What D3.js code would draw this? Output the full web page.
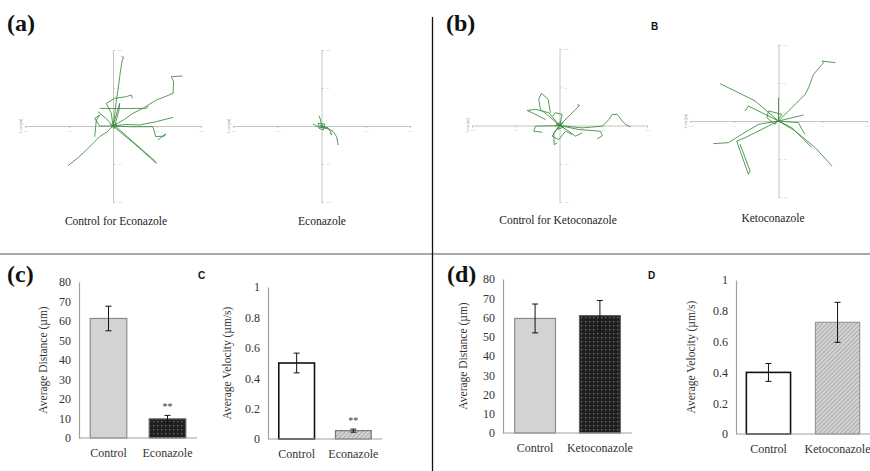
<!DOCTYPE html>
<html>
<head>
<meta charset="utf-8">
<script src="https://cdn.jsdelivr.net/npm/d3@7"></script>
<style>
  body { margin: 0; background: #fff; }
  svg { display: block; }
  .serif { font-family: "Liberation Serif", "DejaVu Serif", "Times New Roman", serif; }
  .sans { font-family: "Liberation Sans", "DejaVu Sans", Arial, sans-serif; }
</style>
</head>
<body>
<div id="fig"></div>
<script>
// ---- bar chart data ----
var econCats = ["Control", "Econazole"];
var ketoCats = ["Control", "Ketoconazole"];
var distEcon = [61.3, 9.8];
var distEconErr = [6.3, 1.8];
var velEcon = [0.50, 0.055];
var velEconErr = [0.065, 0.01];
var distKeto = [59.5, 61];
var distKetoErr = [7.5, 7.8];
var velKeto = [0.40, 0.725];
var velKetoErr = [0.058, 0.13];
var distTicks = [0, 10, 20, 30, 40, 50, 60, 70, 80];
var velTicks = [0, 0.2, 0.4, 0.6, 0.8, 1];
var econSig = ["", "**"];
var ketoSig = ["", ""];

// ---- cell tracks (x, y in axis units, -100..100) ----
var trackCtrlEcon = [
  [[0,0],[2,15],[3.8,34.2],[6,50],[7.6,64.9],[9,76],[10.6,86.8],[12.1,90.4],[9.8,91.2]],
  [[0,0],[12,8],[22.7,16.7],[35,24],[49.2,34.2],[60,39],[68.2,43.0],[68.9,58.3],[66.3,64.9],[78.8,65.8]],
  [[-17,18.9],[-8,10],[0,0],[25,-24],[49.2,-49.1],[47.3,-45.6],[22,-20],[0,2.6]],
  [[0,0],[-7,-8],[-15.2,-14],[-22,-22],[-30.3,-31.6],[-40,-42],[-51.1,-52.2]],
  [[0,0],[15,2],[30.3,1.3],[49.2,5.7],[68.2,11.4]],
  [[0,0],[20,-1],[45.5,-0.9],[48.5,-14],[58.7,-13.2],[59.8,-10.5],[51.1,-18.4]],
  [[-15.2,23.2],[10,23],[37.9,23.2],[39.8,26.3]],
  [[0,0],[-1.9,16.7],[-7.6,29.8],[1.9,36.4],[15.2,38.6],[20.8,40.8],[22,36.4]],
  [[0,0],[-15.2,0],[-20.8,10.1],[-15.2,14.5],[-18.9,7.9],[-20.8,-14]],
  [[0,0],[7.6,29.8],[6.8,21.1],[1.9,0]],
  [[-3,2],[2,-3],[4,3],[-2,-2],[3,1]]
];
var trackEcon = [
  [[0,0],[7.6,-3.1],[13.3,-7.5],[17,-14],[18.9,-25]],
  [[0,0],[-1.1,7.9],[-2.7,13.6]],
  [[-9.5,2.6],[-3.8,-0.9],[3.8,-3.1],[7.6,-1.8]],
  [[0,0],[9.5,-5.3],[11.4,-11.8],[9.5,-9.6]],
  [[-3.8,3.5],[3.8,2.6],[1.9,-5.3],[-2.7,-3.1],[-3.8,3.5]],
  [[-2,1],[3,-1],[-1,-2],[2,2]]
];
var trackCtrlKeto = [
  [[0,0],[-12.2,12.3],[-21.8,21.1],[-23.7,34.2],[-20.6,42.1],[-13,34.2],[-10.3,16.7]],
  [[0,0],[18.3,21.1],[22.9,26.3],[20.2,27.2]],
  [[0,0],[26,-3.1],[48.9,-0.9],[56.5,7.9],[60.3,14.5],[66,14.5],[71.8,5.7],[75.6,1.3],[81.3,-1.8]],
  [[0,0],[22.1,-5.3],[46.9,-7.5],[48.9,-13.2],[43.1,-17.5]],
  [[0,0],[-12.2,16.7],[-27.5,21.1],[-37,19.7],[-31.3,16.7],[-16,7.9]],
  [[0,0],[-6.5,-9.6],[-6.1,-25],[-2.7,-22.8]],
  [[0,0],[-27.5,-0.9],[-29.4,-7.5],[-19.8,-8.8]],
  [[0,0],[10.7,-7.5],[18.3,-14],[26,-9.6]],
  [[0,0],[3.1,14.5],[-4.6,16.7],[-7.6,12.3]],
  [[0,0],[-8.4,-14],[-0.8,-18.4],[6.9,-7.5],[14.5,-11.8]],
  [[-4,3],[5,-2],[-2,-5],[4,4],[-5,-1],[2,6]]
];
var trackKeto = [
  [[0,0],[11.3,13.2],[30.2,35.1],[34,43.9],[39.6,61.4],[50.9,76.8],[49.1,78.9],[64.2,76.8]],
  [[0,0],[-26.4,26.3],[-49.1,39.5],[-66,49.1]],
  [[0,0],[-22.6,-4.4],[-41.5,-17.5],[-56.6,-28.5],[-73.6,-29.8]],
  [[0,0],[-11.3,-6.6],[-37.7,-21.9],[-47.2,-26.3],[-45.3,-32.9],[-34,-70.2],[-32.1,-65.8],[-43.4,-30.7]],
  [[0,0],[18.9,-13.2],[41.5,-35.1],[60.4,-59.2]],
  [[0,0],[15.1,-8.8],[30.2,-26.3],[37.7,-35.1]],
  [[0,0],[28.3,7.9]],
  [[0,0],[0,30.7]],
  [[0,0],[-18.9,11],[-34,19.7],[-37.7,13.2]],
  [[0,0],[22.6,-2.2],[26.4,-11],[30.2,-17.5]],
  [[-11.3,13.2],[3.8,8.8],[-3.8,-4.4],[-13.2,4.4],[-11.3,13.2]]
];
var trackTicks = [-100, -50, 0, 50, 100];

var W = 870, H = 471;

var svg = d3.select("#fig").append("svg")
    .attr("width", W)
    .attr("height", H);

var defs = svg.append("defs");
var dots = defs.append("pattern")
    .attr("id", "dots")
    .attr("width", 4).attr("height", 4)
    .attr("patternUnits", "userSpaceOnUse");
dots.append("rect").attr("width", 4).attr("height", 4).attr("fill", "#1f1f1f");
dots.append("rect").attr("x", 1).attr("y", 1).attr("width", 1.3).attr("height", 1.3).attr("fill", "#6e6e6e");
var hatch = defs.append("pattern")
    .attr("id", "hatch")
    .attr("width", 3).attr("height", 3)
    .attr("patternUnits", "userSpaceOnUse")
    .attr("patternTransform", "rotate(45)");
hatch.append("rect").attr("width", 3).attr("height", 3).attr("fill", "#d4d4d4");
hatch.append("line").attr("x1", 0).attr("y1", 0).attr("x2", 0).attr("y2", 3)
    .attr("stroke", "#8a8a8a").attr("stroke-width", 1.1);

// dividers
svg.append("line").attr("x1", 0).attr("x2", W).attr("y1", 254).attr("y2", 254)
    .attr("stroke", "#8c8c8c").attr("stroke-width", 1.3);
svg.append("line").attr("x1", 432.5).attr("x2", 432.5).attr("y1", 17).attr("y2", H)
    .attr("stroke", "#111").attr("stroke-width", 1.3);

// panel letters
function panelLabel(txt, x, y) {
    svg.append("text").text(txt)
        .attr("class", "serif")
        .attr("x", x).attr("y", y)
        .attr("font-weight", "bold")
        .attr("font-size", 24)
        .attr("fill", "#111");
}
panelLabel("(a)", 7, 31);
panelLabel("(b)", 446, 31);
panelLabel("(c)", 7, 282);
panelLabel("(d)", 447, 282);

function smallLabel(txt, x, y) {
    svg.append("text").text(txt)
        .attr("class", "sans")
        .attr("x", x).attr("y", y)
        .attr("font-weight", "bold")
        .attr("font-size", 10)
        .attr("fill", "#111");
}
smallLabel("B", 651, 30);
smallLabel("C", 198, 279);
smallLabel("D", 648, 279);

// ---- track plots ----
function trackPlot(tracks, x0, x1, y0, y1, caption, capX, capY) {
    var x = d3.scaleLinear().domain([-100, 100]).range([x0, x1]);
    var y = d3.scaleLinear().domain([-100, 100]).range([y1, y0]);
    var g = svg.append("g");

    g.append("g")
        .attr("transform", "translate(0," + y(0) + ")")
        .call(d3.axisBottom(x).tickValues(trackTicks).tickSize(2).tickFormat(function (d) { return d; }))
        .call(function (a) {
            a.select(".domain").attr("stroke", "#c4c4c4");
            a.selectAll(".tick line").attr("stroke", "#c4c4c4");
            a.selectAll(".tick text").attr("font-size", 2.5).attr("fill", "#bbb").attr("dy", "0.2em");
        });
    g.append("g")
        .attr("transform", "translate(" + x(0) + ",0)")
        .call(d3.axisRight(y).tickValues(trackTicks).tickSize(2).tickFormat(function (d) { return d; }))
        .call(function (a) {
            a.select(".domain").attr("stroke", "#c4c4c4");
            a.selectAll(".tick line").attr("stroke", "#c4c4c4");
            a.selectAll(".tick text").attr("font-size", 2.5).attr("fill", "#bbb").attr("dx", "-0.2em");
        });
    g.append("text").text("Y axis [µm]")
        .attr("transform", "translate(" + (x0 - 3) + "," + y(0) + ") rotate(-90)")
        .attr("text-anchor", "middle")
        .attr("font-size", 3)
        .attr("fill", "#888");

    var line = d3.line()
        .x(function (d) { return x(d[0]); })
        .y(function (d) { return y(d[1]); });
    g.selectAll(".trk")
        .data(tracks)
        .enter()
        .append("path")
        .attr("d", line)
        .attr("fill", "none")
        .attr("stroke", "#3a8a3c")
        .attr("stroke-width", 1)
        .attr("stroke-linejoin", "round")
        .attr("opacity", 0.85);

    svg.append("text").text(caption)
        .attr("class", "serif")
        .attr("x", capX).attr("y", capY)
        .attr("text-anchor", "middle")
        .attr("font-size", 11.5)
        .attr("fill", "#222");
}
trackPlot(trackCtrlEcon, 25, 201, 50, 202, "Control for Econazole", 116, 225);
trackPlot(trackEcon, 233, 410, 50, 202, "Econazole", 322, 225);
trackPlot(trackCtrlKeto, 472, 647, 49, 202, "Control for Ketoconazole", 558, 224);
trackPlot(trackKeto, 690, 867, 45, 197, "Ketoconazole", 773, 222);

// ---- bar charts ----
function barChart(cats, vals, errs, sig, fills, strokes, strokeW, yMax, ticks, fmt,
                  left, right, top, bottom, ylab, ylabX, pIn, pOut) {
    var x = d3.scaleBand().domain(cats).range([left, right])
        .paddingInner(pIn).paddingOuter(pOut);
    var y = d3.scaleLinear().domain([0, yMax]).range([bottom, top]);
    var g = svg.append("g");

    var rows = cats.map(function (c, i) {
        return { cat: c, v: vals[i], e: errs[i], s: sig[i], i: i };
    });

    g.selectAll(".bar")
        .data(rows)
        .enter()
        .append("rect")
        .attr("x", function (d) { return x(d.cat); })
        .attr("y", function (d) { return y(d.v); })
        .attr("width", x.bandwidth())
        .attr("height", function (d) { return y(0) - y(d.v); })
        .attr("fill", function (d) { return fills[d.i]; })
        .attr("stroke", function (d) { return strokes[d.i]; })
        .attr("stroke-width", function (d) { return strokeW[d.i]; });

    // y axis
    g.append("g")
        .attr("transform", "translate(" + left + ",0)")
        .call(d3.axisLeft(y).tickValues(ticks).tickSize(0).tickPadding(8).tickFormat(fmt))
        .call(function (a) {
            a.attr("font-family", null);
            a.select(".domain").attr("stroke", "#a0a0a0").attr("stroke-width", 1.2);
            a.selectAll(".tick text")
                .attr("class", "serif")
                .attr("font-size", 12)
                .attr("fill", "#333");
        });
    // x axis
    g.append("g")
        .attr("transform", "translate(0," + bottom + ")")
        .call(d3.axisBottom(x).tickSize(0).tickPadding(10))
        .call(function (a) {
            a.attr("font-family", null);
            a.select(".domain").attr("stroke", "#a0a0a0").attr("stroke-width", 1.2)
                .attr("d", "M" + left + ",0H" + right);
            a.selectAll(".tick text")
                .attr("class", "serif")
                .attr("font-size", 12)
                .attr("fill", "#333");
        });

    // error bars
    var eb = g.selectAll(".err")
        .data(rows)
        .enter()
        .append("g")
        .attr("stroke", "#111")
        .attr("stroke-width", 1);
    eb.append("line")
        .attr("x1", function (d) { return x(d.cat) + x.bandwidth() / 2; })
        .attr("x2", function (d) { return x(d.cat) + x.bandwidth() / 2; })
        .attr("y1", function (d) { return y(d.v - d.e); })
        .attr("y2", function (d) { return y(d.v + d.e); });
    eb.append("line")
        .attr("x1", function (d) { return x(d.cat) + x.bandwidth() / 2 - 3; })
        .attr("x2", function (d) { return x(d.cat) + x.bandwidth() / 2 + 3; })
        .attr("y1", function (d) { return y(d.v + d.e); })
        .attr("y2", function (d) { return y(d.v + d.e); });
    eb.append("line")
        .attr("x1", function (d) { return x(d.cat) + x.bandwidth() / 2 - 3; })
        .attr("x2", function (d) { return x(d.cat) + x.bandwidth() / 2 + 3; })
        .attr("y1", function (d) { return y(d.v - d.e); })
        .attr("y2", function (d) { return y(d.v - d.e); });

    g.selectAll(".sig")
        .data(rows)
        .enter()
        .append("text")
        .text(function (d) { return d.s; })
        .attr("class", "serif")
        .attr("x", function (d) { return x(d.cat) + x.bandwidth() / 2; })
        .attr("y", function (d) { return y(d.v + d.e) - 5; })
        .attr("text-anchor", "middle")
        .attr("font-size", 10)
        .attr("fill", "#333");

    g.append("text").text(ylab)
        .attr("class", "serif")
        .attr("transform", "translate(" + ylabX + "," + ((top + bottom) / 2) + ") rotate(-90)")
        .attr("text-anchor", "middle")
        .attr("font-size", 11.5)
        .attr("fill", "#333");
}

var fmtInt = d3.format("d");
var fmtVel = function (d) { return d === 0 || d === 1 ? String(d) : d3.format(".1f")(d); };

barChart(econCats, distEcon, distEconErr, econSig,
    ["#d2d3d2", "url(#dots)"], ["#8a8a8a", "#606060"], [1.2, 1.2],
    80, distTicks, fmtInt, 79, 197, 282, 438, "Average Distance (µm)", 47, 0.38, 0.19);
barChart(econCats, velEcon, velEconErr, econSig,
    ["#ffffff", "url(#hatch)"], ["#111", "#777"], [1.6, 1.2],
    1, velTicks, fmtVel, 268, 382, 287, 439, "Average Velocity (µm/s)", 231, 0.37, 0.19);
barChart(ketoCats, distKeto, distKetoErr, ketoSig,
    ["#d2d3d2", "url(#dots)"], ["#8a8a8a", "#606060"], [1.2, 1.2],
    80, distTicks, fmtInt, 503, 632, 279, 433, "Average Distance (µm)", 467, 0.37, 0.18);
barChart(ketoCats, velKeto, velKetoErr, ketoSig,
    ["#ffffff", "url(#hatch)"], ["#111", "#999"], [1.6, 1.2],
    1, velTicks, fmtVel, 736, 870, 280, 434, "Average Velocity (µm/s)", 695, 0.36, 0.15);
</script>
</body>
</html>
